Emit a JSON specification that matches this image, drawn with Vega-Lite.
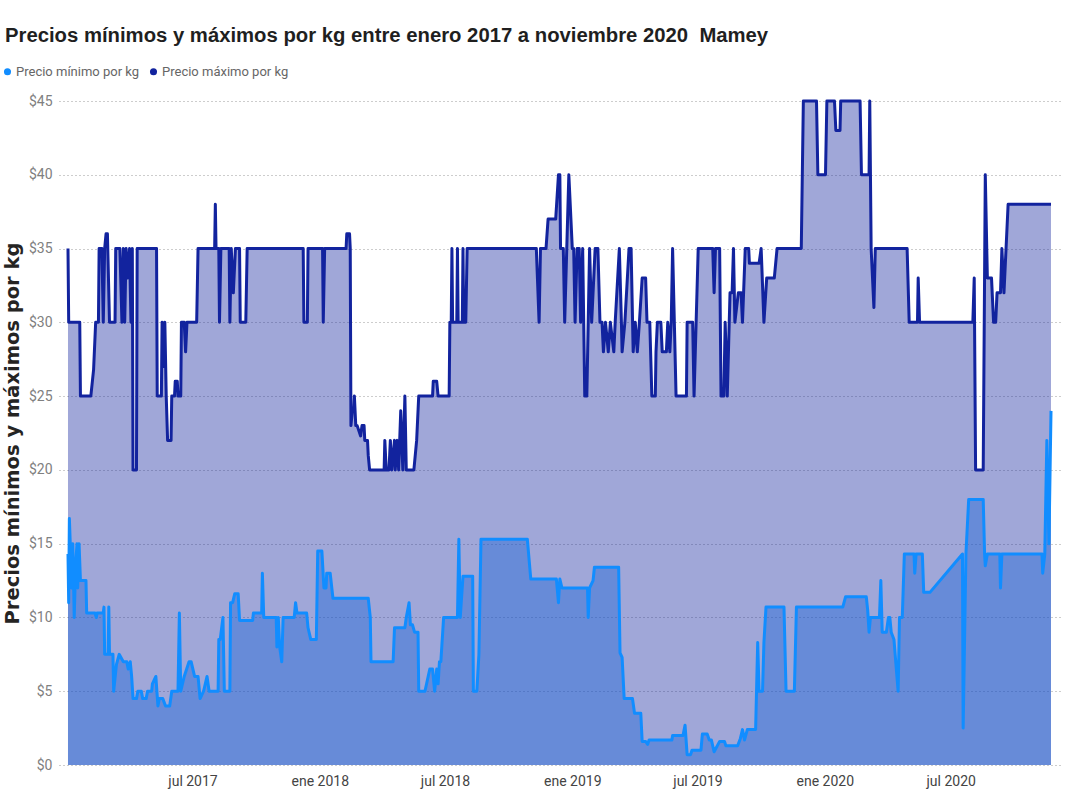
{
  "$schema": "https://vega.github.io/schema/vega-lite/v6.json",
  "width": 1001,
  "height": 664,
  "autosize": {"type": "none"},
  "padding": {"left": 59, "top": 101, "right": 14, "bottom": 32},
  "background": "white",
  "config": {"view": {"stroke": null}},
  "title": {
    "text": "Precios mínimos y máximos por kg entre enero 2017 a noviembre 2020\u00a0 Mamey",
    "anchor": "start",
    "frame": "group",
    "font": "Liberation Sans",
    "fontSize": 20.3,
    "fontWeight": "bold",
    "color": "#1f1f1f",
    "dx": -54,
    "offset": 19
  },
  "datasets": {
    "maximo": [
      {"fecha":"2017-01-02","precio":35},{"fecha":"2017-01-03","precio":30},{"fecha":"2017-01-19","precio":30},{"fecha":"2017-01-20","precio":25},
      {"fecha":"2017-02-04","precio":25},{"fecha":"2017-02-08","precio":26.8},{"fecha":"2017-02-11","precio":30},{"fecha":"2017-02-15","precio":30},
      {"fecha":"2017-02-16","precio":35},{"fecha":"2017-02-20","precio":35},{"fecha":"2017-02-22","precio":30},{"fecha":"2017-02-24","precio":35},
      {"fecha":"2017-02-26","precio":36},{"fecha":"2017-02-28","precio":36},{"fecha":"2017-03-03","precio":30},{"fecha":"2017-03-11","precio":30},
      {"fecha":"2017-03-12","precio":35},{"fecha":"2017-03-18","precio":35},{"fecha":"2017-03-21","precio":30},{"fecha":"2017-03-23","precio":35},
      {"fecha":"2017-03-25","precio":30},{"fecha":"2017-03-27","precio":35},{"fecha":"2017-03-29","precio":33},{"fecha":"2017-04-01","precio":35},
      {"fecha":"2017-04-03","precio":30},{"fecha":"2017-04-05","precio":35},{"fecha":"2017-04-06","precio":20},{"fecha":"2017-04-11","precio":20},
      {"fecha":"2017-04-12","precio":35},{"fecha":"2017-05-10","precio":35},{"fecha":"2017-05-11","precio":25},{"fecha":"2017-05-17","precio":25},
      {"fecha":"2017-05-18","precio":30},{"fecha":"2017-05-20","precio":27},{"fecha":"2017-05-22","precio":30},{"fecha":"2017-05-24","precio":25},
      {"fecha":"2017-05-26","precio":22},{"fecha":"2017-05-31","precio":22},{"fecha":"2017-06-01","precio":25},{"fecha":"2017-06-05","precio":25},
      {"fecha":"2017-06-06","precio":26},{"fecha":"2017-06-09","precio":26},{"fecha":"2017-06-10","precio":25},{"fecha":"2017-06-14","precio":25},
      {"fecha":"2017-06-15","precio":30},{"fecha":"2017-06-19","precio":30},{"fecha":"2017-06-21","precio":28},{"fecha":"2017-06-23","precio":30},
      {"fecha":"2017-07-07","precio":30},{"fecha":"2017-07-09","precio":35},{"fecha":"2017-08-02","precio":35},{"fecha":"2017-08-03","precio":38},
      {"fecha":"2017-08-04","precio":35},{"fecha":"2017-08-08","precio":35},{"fecha":"2017-08-09","precio":30},{"fecha":"2017-08-11","precio":35},
      {"fecha":"2017-08-23","precio":35},{"fecha":"2017-08-24","precio":30},{"fecha":"2017-08-26","precio":35},{"fecha":"2017-08-29","precio":32},
      {"fecha":"2017-09-01","precio":35},{"fecha":"2017-09-07","precio":35},{"fecha":"2017-09-08","precio":30},{"fecha":"2017-09-16","precio":30},
      {"fecha":"2017-09-18","precio":35},{"fecha":"2017-12-08","precio":35},{"fecha":"2017-12-09","precio":30},{"fecha":"2017-12-14","precio":30},
      {"fecha":"2017-12-15","precio":35},{"fecha":"2018-01-05","precio":35},{"fecha":"2018-01-06","precio":30},{"fecha":"2018-01-08","precio":35},
      {"fecha":"2018-02-08","precio":35},{"fecha":"2018-02-09","precio":36},{"fecha":"2018-02-13","precio":36},{"fecha":"2018-02-14","precio":35},
      {"fecha":"2018-02-15","precio":23},{"fecha":"2018-02-17","precio":24},{"fecha":"2018-02-19","precio":24},{"fecha":"2018-02-20","precio":25},
      {"fecha":"2018-02-22","precio":23},{"fecha":"2018-02-24","precio":23},{"fecha":"2018-03-01","precio":22.3},{"fecha":"2018-03-03","precio":23},
      {"fecha":"2018-03-06","precio":23},{"fecha":"2018-03-07","precio":22},{"fecha":"2018-03-11","precio":22},{"fecha":"2018-03-12","precio":21},
      {"fecha":"2018-03-14","precio":20},{"fecha":"2018-04-04","precio":20},{"fecha":"2018-04-05","precio":22},{"fecha":"2018-04-07","precio":20},
      {"fecha":"2018-04-11","precio":20},{"fecha":"2018-04-13","precio":22},{"fecha":"2018-04-15","precio":20},{"fecha":"2018-04-19","precio":22},
      {"fecha":"2018-04-20","precio":20},{"fecha":"2018-04-23","precio":22},{"fecha":"2018-04-25","precio":20},{"fecha":"2018-04-28","precio":24},
      {"fecha":"2018-05-01","precio":20},{"fecha":"2018-05-04","precio":25},{"fecha":"2018-05-06","precio":20},{"fecha":"2018-05-17","precio":20},
      {"fecha":"2018-05-21","precio":22},{"fecha":"2018-05-24","precio":25},{"fecha":"2018-06-13","precio":25},{"fecha":"2018-06-14","precio":26},
      {"fecha":"2018-06-19","precio":26},{"fecha":"2018-06-21","precio":25},{"fecha":"2018-07-07","precio":25},{"fecha":"2018-07-08","precio":30},
      {"fecha":"2018-07-10","precio":30},{"fecha":"2018-07-11","precio":35},{"fecha":"2018-07-12","precio":30},{"fecha":"2018-07-18","precio":30},
      {"fecha":"2018-07-19","precio":35},{"fecha":"2018-07-20","precio":30},{"fecha":"2018-07-26","precio":30},{"fecha":"2018-07-27","precio":35},
      {"fecha":"2018-07-28","precio":30},{"fecha":"2018-07-31","precio":30},{"fecha":"2018-08-02","precio":35},{"fecha":"2018-11-10","precio":35},
      {"fecha":"2018-11-14","precio":30},{"fecha":"2018-11-16","precio":35},{"fecha":"2018-11-24","precio":35},{"fecha":"2018-11-27","precio":37},
      {"fecha":"2018-12-08","precio":37},{"fecha":"2018-12-12","precio":40},{"fecha":"2018-12-14","precio":40},{"fecha":"2018-12-15","precio":35},
      {"fecha":"2018-12-19","precio":35},{"fecha":"2018-12-21","precio":30},{"fecha":"2018-12-27","precio":40},{"fecha":"2019-01-01","precio":35},
      {"fecha":"2019-01-03","precio":35},{"fecha":"2019-01-05","precio":30},{"fecha":"2019-01-08","precio":35},{"fecha":"2019-01-11","precio":35},
      {"fecha":"2019-01-13","precio":30},{"fecha":"2019-01-16","precio":35},{"fecha":"2019-01-19","precio":25},{"fecha":"2019-01-22","precio":25},
      {"fecha":"2019-01-26","precio":35},{"fecha":"2019-01-29","precio":30},{"fecha":"2019-02-03","precio":35},{"fecha":"2019-02-07","precio":35},
      {"fecha":"2019-02-10","precio":30},{"fecha":"2019-02-13","precio":30},{"fecha":"2019-02-15","precio":28},{"fecha":"2019-02-18","precio":30},
      {"fecha":"2019-02-22","precio":28},{"fecha":"2019-02-25","precio":30},{"fecha":"2019-03-02","precio":28},{"fecha":"2019-03-04","precio":30},
      {"fecha":"2019-03-10","precio":35},{"fecha":"2019-03-13","precio":30},{"fecha":"2019-03-14","precio":28},{"fecha":"2019-03-18","precio":30},
      {"fecha":"2019-03-24","precio":35},{"fecha":"2019-03-27","precio":35},{"fecha":"2019-03-30","precio":28},{"fecha":"2019-04-02","precio":30},
      {"fecha":"2019-04-05","precio":28},{"fecha":"2019-04-08","precio":30},{"fecha":"2019-04-12","precio":33},{"fecha":"2019-04-17","precio":33},
      {"fecha":"2019-04-19","precio":30},{"fecha":"2019-04-23","precio":30},{"fecha":"2019-04-26","precio":25},{"fecha":"2019-05-01","precio":25},
      {"fecha":"2019-05-02","precio":28},{"fecha":"2019-05-04","precio":30},{"fecha":"2019-05-09","precio":30},{"fecha":"2019-05-11","precio":28},
      {"fecha":"2019-05-17","precio":28},{"fecha":"2019-05-19","precio":30},{"fecha":"2019-05-22","precio":28},{"fecha":"2019-05-24","precio":30},
      {"fecha":"2019-05-26","precio":35},{"fecha":"2019-05-31","precio":25},{"fecha":"2019-06-15","precio":25},{"fecha":"2019-06-16","precio":30},
      {"fecha":"2019-06-24","precio":30},{"fecha":"2019-06-26","precio":25},{"fecha":"2019-07-02","precio":35},{"fecha":"2019-07-23","precio":35},
      {"fecha":"2019-07-25","precio":32},{"fecha":"2019-07-27","precio":35},{"fecha":"2019-08-02","precio":35},{"fecha":"2019-08-04","precio":25},
      {"fecha":"2019-08-08","precio":25},{"fecha":"2019-08-10","precio":30},{"fecha":"2019-08-13","precio":25},{"fecha":"2019-08-17","precio":32},
      {"fecha":"2019-08-20","precio":32},{"fecha":"2019-08-22","precio":35},{"fecha":"2019-08-24","precio":30},{"fecha":"2019-08-29","precio":32},
      {"fecha":"2019-09-02","precio":32},{"fecha":"2019-09-04","precio":30},{"fecha":"2019-09-08","precio":35},{"fecha":"2019-09-13","precio":35},
      {"fecha":"2019-09-14","precio":34},{"fecha":"2019-09-28","precio":34},{"fecha":"2019-10-01","precio":35},{"fecha":"2019-10-05","precio":30},
      {"fecha":"2019-10-09","precio":33},{"fecha":"2019-10-20","precio":33},{"fecha":"2019-10-24","precio":35},{"fecha":"2019-11-28","precio":35},
      {"fecha":"2019-12-01","precio":45},{"fecha":"2019-12-20","precio":45},{"fecha":"2019-12-22","precio":40},{"fecha":"2020-01-02","precio":40},
      {"fecha":"2020-01-04","precio":45},{"fecha":"2020-01-15","precio":45},{"fecha":"2020-01-17","precio":43},{"fecha":"2020-01-23","precio":43},
      {"fecha":"2020-01-24","precio":45},{"fecha":"2020-02-21","precio":45},{"fecha":"2020-02-23","precio":40},{"fecha":"2020-03-05","precio":40},
      {"fecha":"2020-03-06","precio":45},{"fecha":"2020-03-08","precio":35},{"fecha":"2020-03-12","precio":31},{"fecha":"2020-03-14","precio":35},
      {"fecha":"2020-04-29","precio":35},{"fecha":"2020-05-02","precio":30},{"fecha":"2020-05-14","precio":30},{"fecha":"2020-05-15","precio":33},
      {"fecha":"2020-05-17","precio":30},{"fecha":"2020-08-02","precio":30},{"fecha":"2020-08-04","precio":33},{"fecha":"2020-08-06","precio":20},
      {"fecha":"2020-08-17","precio":20},{"fecha":"2020-08-20","precio":40},{"fecha":"2020-08-23","precio":33},{"fecha":"2020-08-29","precio":33},
      {"fecha":"2020-09-01","precio":30},{"fecha":"2020-09-04","precio":30},{"fecha":"2020-09-06","precio":32},{"fecha":"2020-09-11","precio":32},
      {"fecha":"2020-09-13","precio":35},{"fecha":"2020-09-16","precio":32},{"fecha":"2020-09-19","precio":35},{"fecha":"2020-09-22","precio":38},
      {"fecha":"2020-11-23","precio":38}
    ],
    "minimo": [
      {"fecha":"2017-01-02","precio":14.3},{"fecha":"2017-01-03","precio":11},{"fecha":"2017-01-04","precio":16.7},{"fecha":"2017-01-06","precio":14},
      {"fecha":"2017-01-07","precio":12},{"fecha":"2017-01-09","precio":15},{"fecha":"2017-01-10","precio":12.5},{"fecha":"2017-01-11","precio":10},
      {"fecha":"2017-01-13","precio":13.5},{"fecha":"2017-01-15","precio":15},{"fecha":"2017-01-16","precio":12},{"fecha":"2017-01-18","precio":15},
      {"fecha":"2017-01-20","precio":12.5},{"fecha":"2017-01-28","precio":12.5},{"fecha":"2017-01-29","precio":10.3},{"fecha":"2017-02-10","precio":10.3},
      {"fecha":"2017-02-12","precio":10},{"fecha":"2017-02-13","precio":10.3},{"fecha":"2017-02-22","precio":10.3},{"fecha":"2017-02-23","precio":10.7},
      {"fecha":"2017-02-24","precio":7.5},{"fecha":"2017-03-01","precio":7.5},{"fecha":"2017-03-02","precio":10.7},{"fecha":"2017-03-03","precio":7.5},
      {"fecha":"2017-03-08","precio":7.5},{"fecha":"2017-03-09","precio":5},{"fecha":"2017-03-13","precio":6.8},{"fecha":"2017-03-17","precio":7.5},
      {"fecha":"2017-03-23","precio":7},{"fecha":"2017-03-28","precio":7},{"fecha":"2017-03-30","precio":6.5},{"fecha":"2017-04-02","precio":7},
      {"fecha":"2017-04-04","precio":6},{"fecha":"2017-04-06","precio":4.5},{"fecha":"2017-04-11","precio":4.5},{"fecha":"2017-04-13","precio":5},
      {"fecha":"2017-04-18","precio":5},{"fecha":"2017-04-20","precio":4.5},{"fecha":"2017-04-25","precio":4.5},{"fecha":"2017-04-27","precio":5},
      {"fecha":"2017-05-03","precio":5},{"fecha":"2017-05-04","precio":5.5},{"fecha":"2017-05-09","precio":6},{"fecha":"2017-05-12","precio":4},
      {"fecha":"2017-05-14","precio":4.5},{"fecha":"2017-05-19","precio":4.5},{"fecha":"2017-05-23","precio":4},{"fecha":"2017-05-29","precio":4},
      {"fecha":"2017-06-01","precio":5},{"fecha":"2017-06-10","precio":5},{"fecha":"2017-06-12","precio":10.3},{"fecha":"2017-06-14","precio":5},
      {"fecha":"2017-06-19","precio":6},{"fecha":"2017-06-26","precio":7},{"fecha":"2017-06-29","precio":7},{"fecha":"2017-07-04","precio":6},
      {"fecha":"2017-07-09","precio":6},{"fecha":"2017-07-12","precio":4.5},{"fecha":"2017-07-17","precio":5},{"fecha":"2017-07-22","precio":6},
      {"fecha":"2017-07-25","precio":5},{"fecha":"2017-08-07","precio":5},{"fecha":"2017-08-08","precio":8.5},{"fecha":"2017-08-10","precio":8.5},
      {"fecha":"2017-08-14","precio":10},{"fecha":"2017-08-16","precio":5},{"fecha":"2017-08-24","precio":5},{"fecha":"2017-08-25","precio":11},
      {"fecha":"2017-08-28","precio":11},{"fecha":"2017-08-31","precio":11.6},{"fecha":"2017-09-05","precio":11.6},{"fecha":"2017-09-07","precio":9.8},
      {"fecha":"2017-09-26","precio":9.8},{"fecha":"2017-09-27","precio":10.3},{"fecha":"2017-10-09","precio":10.3},{"fecha":"2017-10-10","precio":13},
      {"fecha":"2017-10-12","precio":10},{"fecha":"2017-10-30","precio":10},{"fecha":"2017-10-31","precio":8},{"fecha":"2017-11-02","precio":10},
      {"fecha":"2017-11-04","precio":8},{"fecha":"2017-11-07","precio":7},{"fecha":"2017-11-09","precio":10},{"fecha":"2017-11-25","precio":10},
      {"fecha":"2017-11-27","precio":11},{"fecha":"2017-11-29","precio":10.3},{"fecha":"2017-12-13","precio":10.3},{"fecha":"2017-12-15","precio":9.3},
      {"fecha":"2017-12-19","precio":8.5},{"fecha":"2017-12-27","precio":8.5},{"fecha":"2017-12-29","precio":14.5},{"fecha":"2018-01-04","precio":14.5},
      {"fecha":"2018-01-07","precio":12},{"fecha":"2018-01-10","precio":12},{"fecha":"2018-01-11","precio":13},{"fecha":"2018-01-16","precio":13},
      {"fecha":"2018-01-20","precio":11.3},{"fecha":"2018-03-12","precio":11.3},{"fecha":"2018-03-15","precio":10},{"fecha":"2018-03-16","precio":7},
      {"fecha":"2018-04-17","precio":7},{"fecha":"2018-04-19","precio":9.3},{"fecha":"2018-05-04","precio":9.3},{"fecha":"2018-05-06","precio":10},
      {"fecha":"2018-05-10","precio":11},{"fecha":"2018-05-12","precio":9.5},{"fecha":"2018-05-15","precio":9.5},{"fecha":"2018-05-18","precio":9},
      {"fecha":"2018-05-23","precio":9},{"fecha":"2018-05-24","precio":5},{"fecha":"2018-06-02","precio":5},{"fecha":"2018-06-09","precio":6.5},
      {"fecha":"2018-06-13","precio":6.5},{"fecha":"2018-06-16","precio":5},{"fecha":"2018-06-19","precio":6.5},{"fecha":"2018-06-21","precio":5.5},
      {"fecha":"2018-06-23","precio":7},{"fecha":"2018-06-25","precio":7},{"fecha":"2018-06-29","precio":10},{"fecha":"2018-07-19","precio":10},
      {"fecha":"2018-07-21","precio":15.3},{"fecha":"2018-07-23","precio":10},{"fecha":"2018-07-27","precio":12.8},{"fecha":"2018-08-10","precio":12.8},
      {"fecha":"2018-08-11","precio":5},{"fecha":"2018-08-16","precio":5},{"fecha":"2018-08-19","precio":7.5},{"fecha":"2018-08-22","precio":15.3},
      {"fecha":"2018-10-28","precio":15.3},{"fecha":"2018-11-02","precio":12.6},{"fecha":"2018-12-09","precio":12.6},{"fecha":"2018-12-12","precio":11},
      {"fecha":"2018-12-14","precio":12.6},{"fecha":"2018-12-17","precio":12},{"fecha":"2019-01-23","precio":12},{"fecha":"2019-01-24","precio":10},
      {"fecha":"2019-01-26","precio":12},{"fecha":"2019-01-31","precio":12.5},{"fecha":"2019-02-02","precio":13.4},{"fecha":"2019-03-09","precio":13.4},
      {"fecha":"2019-03-11","precio":7.6},{"fecha":"2019-03-14","precio":7.3},{"fecha":"2019-03-17","precio":4.5},{"fecha":"2019-03-29","precio":4.5},
      {"fecha":"2019-04-01","precio":3.5},{"fecha":"2019-04-10","precio":3.5},{"fecha":"2019-04-12","precio":1.6},{"fecha":"2019-04-17","precio":1.6},
      {"fecha":"2019-04-20","precio":1.4},{"fecha":"2019-04-22","precio":1.7},{"fecha":"2019-05-25","precio":1.7},{"fecha":"2019-05-26","precio":2},
      {"fecha":"2019-06-10","precio":2},{"fecha":"2019-06-13","precio":2.7},{"fecha":"2019-06-16","precio":0.7},{"fecha":"2019-06-21","precio":0.7},
      {"fecha":"2019-06-23","precio":1},{"fecha":"2019-07-06","precio":1},{"fecha":"2019-07-08","precio":2.1},{"fecha":"2019-07-15","precio":2.1},
      {"fecha":"2019-07-18","precio":1.7},{"fecha":"2019-07-21","precio":1.7},{"fecha":"2019-07-25","precio":0.9},{"fecha":"2019-08-02","precio":1.6},
      {"fecha":"2019-08-09","precio":1.6},{"fecha":"2019-08-11","precio":1.3},{"fecha":"2019-08-28","precio":1.3},{"fecha":"2019-09-01","precio":1.8},
      {"fecha":"2019-09-04","precio":2.4},{"fecha":"2019-09-07","precio":1.7},{"fecha":"2019-09-11","precio":2.4},{"fecha":"2019-09-23","precio":2.4},
      {"fecha":"2019-09-26","precio":8.3},{"fecha":"2019-09-28","precio":5},{"fecha":"2019-10-03","precio":5},{"fecha":"2019-10-05","precio":8.3},
      {"fecha":"2019-10-08","precio":10.7},{"fecha":"2019-11-03","precio":10.7},{"fecha":"2019-11-06","precio":5},{"fecha":"2019-11-18","precio":5},
      {"fecha":"2019-11-21","precio":10.7},{"fecha":"2020-01-27","precio":10.7},{"fecha":"2020-01-31","precio":11.4},{"fecha":"2020-03-01","precio":11.4},
      {"fecha":"2020-03-03","precio":10.5},{"fecha":"2020-03-05","precio":9},{"fecha":"2020-03-07","precio":10},{"fecha":"2020-03-20","precio":10},
      {"fecha":"2020-03-22","precio":12.5},{"fecha":"2020-03-24","precio":9},{"fecha":"2020-03-30","precio":9},{"fecha":"2020-04-02","precio":10},
      {"fecha":"2020-04-04","precio":10},{"fecha":"2020-04-06","precio":9},{"fecha":"2020-04-10","precio":8.5},{"fecha":"2020-04-16","precio":5},
      {"fecha":"2020-04-18","precio":10},{"fecha":"2020-04-22","precio":10},{"fecha":"2020-04-25","precio":14.3},{"fecha":"2020-05-09","precio":14.3},
      {"fecha":"2020-05-10","precio":13},{"fecha":"2020-05-12","precio":14.3},{"fecha":"2020-05-21","precio":14.3},{"fecha":"2020-05-23","precio":11.7},
      {"fecha":"2020-06-01","precio":11.7},{"fecha":"2020-07-18","precio":14.3},{"fecha":"2020-07-19","precio":2.5},{"fecha":"2020-07-23","precio":14.3},
      {"fecha":"2020-07-27","precio":18},{"fecha":"2020-08-17","precio":18},{"fecha":"2020-08-19","precio":14.3},{"fecha":"2020-08-20","precio":13.5},
      {"fecha":"2020-08-23","precio":14.3},{"fecha":"2020-09-10","precio":14.3},{"fecha":"2020-09-11","precio":12},{"fecha":"2020-09-13","precio":14.3},
      {"fecha":"2020-11-10","precio":14.3},{"fecha":"2020-11-11","precio":13},{"fecha":"2020-11-14","precio":14.3},{"fecha":"2020-11-17","precio":22},
      {"fecha":"2020-11-20","precio":15},{"fecha":"2020-11-23","precio":24}
    ]
  },
  "encoding": {
    "x": {
      "field": "fecha",
      "type": "temporal",
      "scale": {
        "type": "utc",
        "domain": [
          {"year": 2016, "month": 12, "date": 20, "utc": true},
          {"year": 2020, "month": 12, "date": 6, "utc": true}
        ],
        "nice": false
      },
      "axis": {
        "title": null,
        "values": [
          {"year": 2017, "month": 7, "date": 1, "utc": true},
          {"year": 2018, "month": 1, "date": 1, "utc": true},
          {"year": 2018, "month": 7, "date": 1, "utc": true},
          {"year": 2019, "month": 1, "date": 1, "utc": true},
          {"year": 2019, "month": 7, "date": 1, "utc": true},
          {"year": 2020, "month": 1, "date": 1, "utc": true},
          {"year": 2020, "month": 7, "date": 1, "utc": true}
        ],
        "labelExpr": "(utcmonth(datum.value) == 0 ? 'ene ' : 'jul ') + utcyear(datum.value)",
        "ticks": false,
        "domain": false,
        "grid": false,
        "labelFont": "Roboto",
        "labelFontSize": 14,
        "labelColor": "#444444",
        "labelPadding": 9,
        "labelFlush": false,
        "labelOverlap": false
      }
    },
    "y": {
      "field": "precio",
      "type": "quantitative",
      "scale": {"domain": [0, 45], "nice": false, "zero": true},
      "axis": {
        "title": "Precios mínimos y máximos por kg",
        "titleFont": "DejaVu Sans",
        "titleFontSize": 19.5,
        "titleFontWeight": "bold",
        "titleColor": "#252423",
        "titlePadding": 6,
        "values": [0, 5, 10, 15, 20, 25, 30, 35, 40, 45],
        "labelExpr": "'$' + datum.value",
        "ticks": false,
        "domain": false,
        "grid": true,
        "gridDash": [1, 3],
        "gridColor": "#9a9a9a",
        "gridWidth": 1,
        "labelFont": "Roboto",
        "labelFontSize": 14,
        "labelColor": "#808080",
        "labelPadding": 7
      }
    }
  },
  "layer": [
    {
      "data": {"name": "minimo"},
      "mark": {"type": "area", "fillOpacity": 0.4, "interpolate": "linear"},
      "encoding": {
        "color": {
          "datum": "Precio mínimo por kg",
          "type": "nominal",
          "scale": {"domain": ["Precio mínimo por kg", "Precio máximo por kg"], "range": ["#118DFF", "#12239E"]},
          "legend": {
            "title": null,
            "orient": "none",
            "legendX": -58,
            "legendY": -36,
            "direction": "horizontal",
            "symbolType": "circle",
            "symbolSize": 50,
            "symbolOpacity": 1,
            "symbolStrokeWidth": 0,
            "labelFont": "Roboto",
            "labelFontSize": 13,
            "labelColor": "#666666",
            "labelOffset": 2,
            "columnPadding": 7,
            "padding": 0
          }
        }
      }
    },
    {
      "data": {"name": "maximo"},
      "mark": {"type": "area", "fillOpacity": 0.4, "interpolate": "linear"},
      "encoding": {
        "color": {"datum": "Precio máximo por kg", "type": "nominal"}
      }
    },
    {
      "data": {"name": "maximo"},
      "mark": {"type": "line", "color": "#12239E", "strokeWidth": 3, "strokeJoin": "round"},
      "encoding": {}
    },
    {
      "data": {"name": "minimo"},
      "mark": {"type": "line", "color": "#118DFF", "strokeWidth": 3, "strokeJoin": "round"},
      "encoding": {}
    }
  ]
}
